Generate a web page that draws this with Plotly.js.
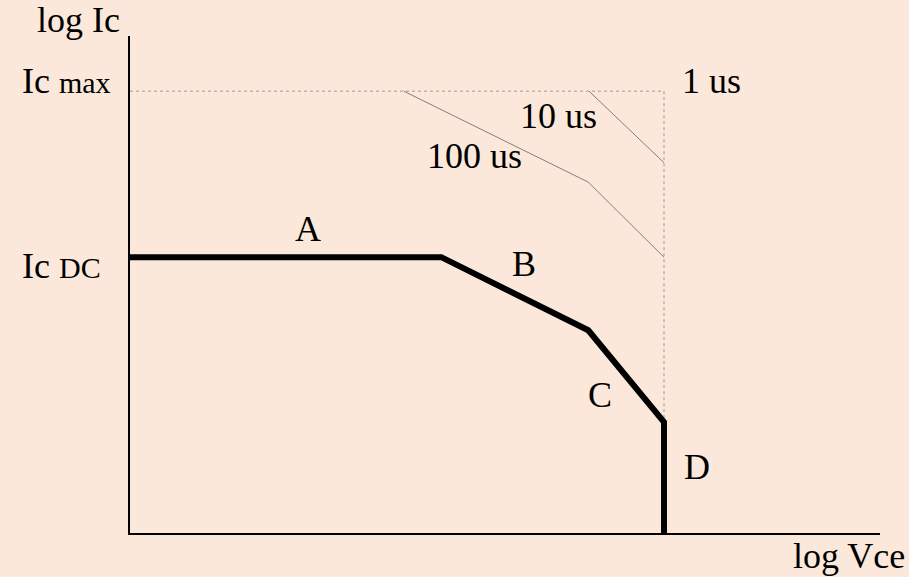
<!DOCTYPE html>
<html>
<head>
<meta charset="utf-8">
<script src="https://cdn.plot.ly/plotly-3.0.1.min.js"></script>
<style>
  html, body { margin: 0; padding: 0; background: #FBE8DA; }
  #chart { width: 909px; height: 577px; }
</style>
</head>
<body>
<div id="chart"></div>
<script>
// Safe operating area, schematic: log Vce on x, log Ic on y (arbitrary units)
const dcX = [0, 4.15, 6.11, 7.12, 7.12];      // DC boundary corners (A, B, C, D)
const dcY = [5.55, 5.55, 4.08, 2.23, 0];

const icMax = 8.89;                            // Ic max level
const vceMax = 7.12;                           // breakdown limit

const p100X = [3.65, 6.11, 7.12];              // 100 us pulse boundary
const p100Y = [8.89, 7.06, 5.55];
const p10X = [6.12, 7.12];                     // 10 us pulse boundary
const p10Y = [8.89, 7.45];

const boxX = [0, 7.12, 7.12];                  // 1 us limit (Ic max / Vce max)
const boxY = [8.89, 8.89, 2.23];

const segLabels = ['A', 'B', 'C', 'D'];
const segLabelX = [2.37, 5.25, 6.27, 7.56];
const segLabelY = [6.12, 5.41, 2.78, 1.33];

const pulseLabels = ['100 us', '10 us', '1 us'];
const pulseLabelX = [4.59, 5.71, 7.75];
const pulseLabelY = [7.59, 8.39, 9.10];

const FONT = 'Liberation Serif, Times New Roman, serif';
const BG = '#FBE8DA';

const traces = [
  { x: boxX, y: boxY, mode: 'lines', hoverinfo: 'skip',
    line: { color: '#9a9a9a', width: 1, dash: 'dot' } },
  { x: p100X, y: p100Y, mode: 'lines', hoverinfo: 'skip',
    line: { color: '#808080', width: 1 } },
  { x: p10X, y: p10Y, mode: 'lines', hoverinfo: 'skip',
    line: { color: '#808080', width: 1 } },
  { x: dcX, y: dcY, mode: 'lines', hoverinfo: 'skip',
    line: { color: '#000000', width: 6 } }
];

const ann = [];
function txt(x, y, text, opts) {
  ann.push(Object.assign({
    x: x, y: y, xref: 'x', yref: 'y', text: text, showarrow: false,
    xanchor: 'center', yanchor: 'middle',
    font: { family: FONT, size: 36, color: '#000' }
  }, opts || {}));
}
segLabels.forEach((t, i) => txt(segLabelX[i], segLabelY[i], t));
pulseLabels.forEach((t, i) => txt(pulseLabelX[i], pulseLabelY[i], t));
// axis names and level labels sit outside the plot area
const paper = { xref: 'paper', yref: 'paper' };
txt(-0.069, 1.032, 'log Ic', paper);
txt(0.959, -0.046, 'log Vce', paper);
txt(-0.147, 0.909, 'Ic <span style="font-size:30px">max</span>', Object.assign({}, paper, { xanchor: 'left' }));
txt(-0.147, 0.537, 'Ic <span style="font-size:30px">DC</span>', Object.assign({}, paper, { xanchor: 'left' }));

const layout = {
  width: 909, height: 577,
  margin: { l: 130, r: 29, t: 36, b: 44 },
  paper_bgcolor: BG, plot_bgcolor: BG,
  showlegend: false,
  xaxis: { range: [0, 10], showline: true, linecolor: '#000', linewidth: 2,
           showgrid: false, zeroline: false, showticklabels: false, ticks: '' },
  yaxis: { range: [0, 10], showline: true, linecolor: '#000', linewidth: 2,
           showgrid: false, zeroline: false, showticklabels: false, ticks: '' },
  annotations: ann
};

Plotly.newPlot('chart', traces, layout, { displayModeBar: false, staticPlot: true });
</script>
</body>
</html>
